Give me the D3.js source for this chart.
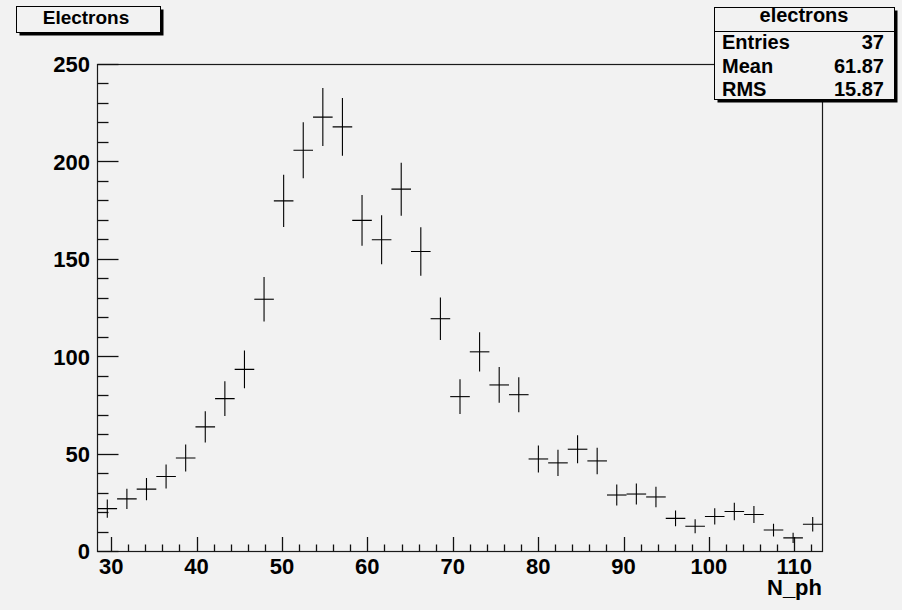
<!DOCTYPE html>
<html>
<head>
<meta charset="utf-8">
<script src="https://cdn.jsdelivr.net/npm/d3@7"></script>
<style>
  body { margin: 0; background: #f2f2f2; }
  svg { display: block; font-family: "Liberation Sans", Arial, sans-serif; font-weight: bold; }
</style>
</head>
<body>
<div id="chart"></div>
<script>
// histogram "electrons": 37 bins between xLow and xHigh
const xLow = 28.4, xHigh = 113.3;
const binCounts = [22, 27, 32, 38.5, 48, 64, 78.5, 93.5, 129.5, 180, 206, 223, 218, 170, 160, 186, 154,
  119.5, 79.5, 102.5, 85.5, 80.5, 47.5, 45.5, 52.5, 46.5, 29, 29.5, 28, 17, 13, 18, 20.5, 19, 11, 7, 14];
const binErrors = [4.7, 5.2, 5.7, 6.2, 6.9, 8, 8.9, 9.7, 11.4, 13.4, 14.4, 14.9, 14.8, 13, 12.6, 13.6, 12.4,
  10.9, 8.9, 10.1, 9.2, 9, 6.9, 6.7, 7.2, 6.8, 5.4, 5.4, 5.3, 4.1, 3.6, 4.2, 4.5, 4.4, 3.3, 2.6, 3.7];
const xMajor = [30, 40, 50, 60, 70, 80, 90, 100, 110];
const yMajor = [0, 50, 100, 150, 200, 250];
const statNames = ["Entries", "Mean", "RMS"];
const statValues = ["37", "61.87", "15.87"];

const W = 902, H = 610;
const frame = {left: 97.5, right: 822.5, top: 64.5, bottom: 551.5};

const svg = d3.select("#chart").append("svg").attr("width", W).attr("height", H);
svg.append("rect").attr("width", W).attr("height", H).attr("fill", "#f2f2f2");

const x = d3.scaleLinear().domain([xLow, xHigh]).range([frame.left, frame.right]);
const y = d3.scaleLinear().domain([0, 250]).range([frame.bottom, frame.top]);

const binW = (xHigh - xLow) / binCounts.length;
const bins = binCounts.map((c, i) => ({
  lo: xLow + i * binW, hi: xLow + (i + 1) * binW, v: c, e: binErrors[i]
}));

// frame
svg.append("rect")
  .attr("x", frame.left).attr("y", frame.top)
  .attr("width", frame.right - frame.left).attr("height", frame.bottom - frame.top)
  .attr("fill", "none").attr("stroke", "#1a1a1a").attr("stroke-width", 1.2);

// ticks (drawn inward like ROOT)
const xMinor = d3.range(30, 113.3, 2).filter(v => v % 10 !== 0);
const yMinor = d3.range(10, 250, 10).filter(v => v % 50 !== 0);
const ticks = svg.append("g").attr("stroke", "#111").attr("stroke-width", 1.3);

ticks.selectAll("line.xmaj").data(xMajor).join("line").attr("class", "xmaj")
  .attr("x1", d => Math.round(x(d)) + 0.5).attr("x2", d => Math.round(x(d)) + 0.5)
  .attr("y1", frame.bottom).attr("y2", frame.bottom - 14.5);
ticks.selectAll("line.xmin").data(xMinor).join("line").attr("class", "xmin")
  .attr("x1", d => Math.round(x(d)) + 0.5).attr("x2", d => Math.round(x(d)) + 0.5)
  .attr("y1", frame.bottom).attr("y2", frame.bottom - 7);
ticks.selectAll("line.ymaj").data(yMajor).join("line").attr("class", "ymaj")
  .attr("y1", d => Math.round(y(d) - 0.5) + 0.5).attr("y2", d => Math.round(y(d) - 0.5) + 0.5)
  .attr("x1", frame.left).attr("x2", frame.left + 21);
ticks.selectAll("line.ymin").data(yMinor).join("line").attr("class", "ymin")
  .attr("y1", d => Math.round(y(d) - 0.5) + 0.5).attr("y2", d => Math.round(y(d) - 0.5) + 0.5)
  .attr("x1", frame.left).attr("x2", frame.left + 11);

// tick labels
svg.append("g").selectAll("text").data(xMajor).join("text")
  .attr("x", d => x(d)).attr("y", frame.bottom + 22.5)
  .attr("text-anchor", "middle").attr("font-size", 22)
  .text(d => d);
svg.append("g").selectAll("text").data(yMajor).join("text")
  .attr("x", 90).attr("y", d => y(d)).attr("dy", "0.36em")
  .attr("text-anchor", "end").attr("font-size", 22)
  .text(d => d);

// x axis title
svg.append("text")
  .attr("x", 822).attr("y", 595)
  .attr("text-anchor", "end").attr("font-size", 22)
  .text("N_ph");

// error-bar crosses
svg.append("clipPath").attr("id", "clip")
  .append("rect").attr("x", frame.left).attr("y", frame.top)
  .attr("width", frame.right - frame.left).attr("height", frame.bottom - frame.top);

const marks = svg.append("g").attr("clip-path", "url(#clip)")
  .attr("stroke", "#000").attr("stroke-width", 1.1);

marks.selectAll("line.h").data(bins).join("line").attr("class", "h")
  .attr("x1", d => x(d.lo)).attr("x2", d => x(d.hi))
  .attr("y1", d => y(d.v)).attr("y2", d => y(d.v));
marks.selectAll("line.v").data(bins).join("line").attr("class", "v")
  .attr("x1", d => x((d.lo + d.hi) / 2)).attr("x2", d => x((d.lo + d.hi) / 2))
  .attr("y1", d => y(d.v - d.e)).attr("y2", d => y(d.v + d.e));

// title box
const tb = {x: 16.5, y: 6.5, w: 144, h: 26};
svg.append("rect").attr("x", tb.x + 3).attr("y", tb.y + 3).attr("width", tb.w).attr("height", tb.h).attr("fill", "#000");
svg.append("rect").attr("x", tb.x).attr("y", tb.y).attr("width", tb.w).attr("height", tb.h)
  .attr("fill", "#f2f2f2").attr("stroke", "#000").attr("stroke-width", 1);
svg.append("text").attr("x", 86).attr("y", 24).attr("text-anchor", "middle")
  .attr("font-size", 19).text("Electrons");

// stats box
const sb = {x: 714.5, y: 7.5, w: 180, h: 92};
svg.append("rect").attr("x", sb.x + 3).attr("y", sb.y + 3).attr("width", sb.w).attr("height", sb.h).attr("fill", "#000");
svg.append("rect").attr("x", sb.x).attr("y", sb.y).attr("width", sb.w).attr("height", sb.h)
  .attr("fill", "#f2f2f2").attr("stroke", "#000").attr("stroke-width", 1);
svg.append("line").attr("x1", sb.x).attr("x2", sb.x + sb.w).attr("y1", 31.5).attr("y2", 31.5)
  .attr("stroke", "#000");
svg.append("text").attr("x", 804).attr("y", 22).attr("text-anchor", "middle")
  .attr("font-size", 20).text("electrons");

const rowY = [48.5, 72.5, 96];
statNames.forEach((n, i) => {
  svg.append("text").attr("x", 722).attr("y", rowY[i]).attr("font-size", 20).text(n);
  svg.append("text").attr("x", 884).attr("y", rowY[i]).attr("text-anchor", "end")
    .attr("font-size", 20).text(statValues[i]);
});
</script>
</body>
</html>
